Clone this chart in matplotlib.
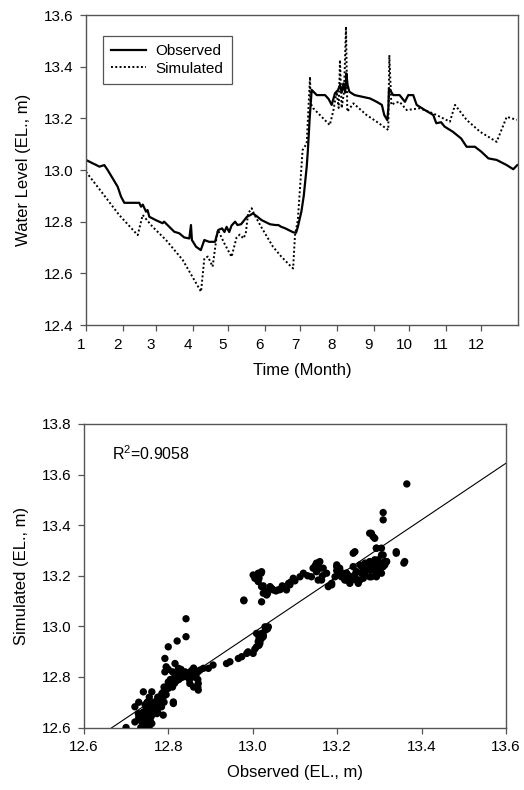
import numpy as np
import matplotlib
matplotlib.use('Agg')
import matplotlib.pyplot as plt
import matplotlib.transforms as mtransforms

plt.rcParams['font.family'] = ['Liberation Sans', 'DejaVu Sans']
plt.rcParams['mathtext.fontset'] = 'custom'
plt.rcParams['mathtext.rm'] = 'Liberation Sans'
plt.rcParams['mathtext.default'] = 'regular'

""" ************************* time series (day of year) ************************* """
obs_day = [0, 5.6, 8.4, 11.3, 15.5, 18.3, 22.5, 26.8, 29.6, 32.4, 45, 46.5, 48, 50.7, 52, 53.5,
           59, 64.7, 66, 70.4, 74.6, 78.8, 83, 87.3, 88.7, 89.5, 93, 97, 100, 104, 109,
           111.8, 115, 117, 118.8, 121, 123, 126, 128, 131, 136, 139, 141, 144, 148.4,
           155.5, 160, 162.5, 165, 168, 175, 177.5, 179, 182, 184, 186.5, 187.5, 189,
           190.7, 195, 202, 205, 207.6, 210.4, 213, 214.6, 216, 217.5, 219, 220, 221,
           222.5, 227, 233, 240, 245.6, 250, 252, 254.6, 255.5, 256, 259.6, 265, 269.5,
           272.3, 276.5, 279.4, 286.4, 293.4, 296, 300, 303, 310, 317, 321.6, 328.6,
           334, 340, 347, 355.5, 361, 364.4]
obs_val = [13.039, 13.026, 13.020, 13.013, 13.019, 13.000, 12.968, 12.935, 12.897, 12.873,
           12.873, 12.858, 12.866, 12.839, 12.845, 12.819, 12.806, 12.794, 12.800, 12.780,
           12.761, 12.755, 12.739, 12.735, 12.787, 12.729, 12.703, 12.690, 12.729, 12.722,
           12.722, 12.768, 12.774, 12.760, 12.780, 12.760, 12.785, 12.800, 12.787, 12.790,
           12.819, 12.826, 12.832, 12.822, 12.806, 12.790, 12.787, 12.787, 12.780, 12.775,
           12.759, 12.757, 12.780, 12.839, 12.900, 13.013, 13.077, 13.200,
           13.310, 13.290, 13.290, 13.275, 13.252, 13.297, 13.310, 13.329, 13.300, 13.335,
           13.300, 13.374, 13.330, 13.303, 13.290, 13.284, 13.277, 13.264, 13.252, 13.213,
           13.193, 13.240, 13.316, 13.290, 13.290, 13.264,
           13.290, 13.290, 13.252, 13.232, 13.213, 13.181, 13.185, 13.168, 13.148, 13.122,
           13.090, 13.090, 13.071, 13.045, 13.039, 13.019, 13.003, 13.019]

sim_day = [0, 14, 28, 43.7, 47.9, 56.3, 67.6, 81.7, 97.2, 100, 103, 107, 110.4, 111.5,
           117, 123, 127.3, 130, 133, 135, 137, 140, 142, 148, 158, 165, 172, 175,
           176.6, 179, 183, 186.5, 189.3, 189.8, 192, 206, 209, 211.8, 213.5, 214.6,
           216, 218, 219.7, 220.8, 226, 237, 245.6, 255.4, 256.3, 258, 261, 265, 271,
           282, 293.4, 307.5, 311.8, 321.6, 333, 347, 355.5, 364]
sim_val = [12.993, 12.910, 12.826, 12.748, 12.826, 12.780, 12.729, 12.652, 12.529, 12.658,
           12.665, 12.626, 12.742, 12.768, 12.715, 12.664, 12.740, 12.750, 12.735, 12.755,
           12.832, 12.852, 12.830, 12.780, 12.703, 12.665, 12.632, 12.619,
           12.748, 12.806, 13.077, 13.103, 13.361, 13.258, 13.239, 13.174, 13.230, 13.303,
           13.240, 13.426, 13.240, 13.300, 13.555, 13.226, 13.258, 13.213, 13.187, 13.155,
           13.445, 13.252, 13.260, 13.264, 13.232, 13.239, 13.219, 13.187, 13.252, 13.194,
           13.148, 13.109, 13.206, 13.194]

month_start = [0, 31, 59, 90, 120, 151, 181, 212, 243, 273, 304, 334]
month_label = [str(m) for m in range(1, 13)]

""" ************************* scatter: observed vs simulated ************************* """
# low group (Jan - Jun)
sc_obs = [12.700, 12.721, 12.741, 12.761, 12.729, 12.733, 12.741, 12.745, 12.753, 12.761,
          12.765, 12.773, 12.776, 12.784, 12.788, 12.792, 12.800, 12.808, 12.812, 12.816,
          12.820, 12.828, 12.835, 12.816, 12.824, 12.851, 12.847, 12.859, 12.867, 12.871,
          12.871, 12.875, 12.883, 12.895, 12.906, 12.938, 12.946, 12.966, 12.974, 12.986,
          12.792, 12.792, 12.800, 12.821, 12.842, 12.842, 12.979, 12.812, 12.788, 12.741,
          12.721, 12.735, 12.740, 12.750, 12.757, 12.760, 12.770, 12.775, 12.780, 12.785,
          12.790, 12.795, 12.800, 12.805, 12.810, 12.815, 12.820, 12.825, 12.830, 12.795,
          12.800, 12.810, 12.840, 12.845, 12.850, 12.860, 12.860, 12.855, 12.870, 12.870,
          12.860, 12.740, 12.750, 12.765, 12.755, 12.745, 12.730,
          12.745, 12.755, 12.770, 12.780, 12.790, 12.800, 12.805, 12.760, 12.775, 12.790,
          12.815, 12.830, 12.840, 12.855, 12.865, 12.870, 12.730, 12.755,
          # middle column (Jul rise, Dec)
          13.017, 13.001, 13.021, 13.037, 13.009, 12.989, 13.009, 13.029, 13.025, 13.015,
          13.005, 13.013, 13.020, 13.030, 13.035, 13.025, 13.015,
          # upper group (Jul - Nov)
          12.979, 13.001, 13.013, 13.021, 13.005, 13.013, 13.021, 13.025, 13.021, 13.033,
          13.041, 13.049, 13.060, 13.080, 13.088, 13.096, 13.112, 13.120, 13.139, 13.143,
          13.151, 13.159, 13.151, 13.155, 13.163, 13.179, 13.187, 13.199, 13.202, 13.214,
          13.222, 13.230, 13.238, 13.250, 13.242, 13.254, 13.262, 13.269, 13.273, 13.277,
          13.281, 13.285, 13.289, 13.289, 13.281, 13.293, 13.293, 13.301, 13.309, 13.309,
          13.309, 13.313, 13.340, 13.360, 13.365, 13.222, 13.246, 13.270, 13.305, 13.317,
          13.358, 13.295, 13.265, 13.245, 13.228, 13.300, 13.085, 13.070,
          13.005, 13.015, 13.020, 13.025, 13.030, 13.035, 13.045, 13.055, 13.065, 13.070,
          13.090, 13.100, 13.130, 13.148, 13.155, 13.160, 13.165,
          13.167, 13.175, 13.187, 13.199, 13.199, 13.210, 13.222, 13.234, 13.238, 13.246,
          13.254, 13.258, 13.266, 13.277, 13.277, 13.285, 13.285, 13.293, 13.297, 13.305,
          13.309, 13.317, 13.305, 13.293, 13.277, 13.262, 13.230, 13.218, 13.195, 13.340,
          13.246, 13.250, 13.301, 13.313, 13.289, 13.281, 13.269, 13.258, 13.242, 13.226,
          13.214, 13.206]
sc_sim = [12.600, 12.682, 12.741, 12.741, 12.655, 12.629, 12.642, 12.616, 12.662, 12.616,
          12.682, 12.655, 12.701, 12.682, 12.721, 12.748, 12.761, 12.774, 12.701, 12.807,
          12.787, 12.814, 12.800, 12.853, 12.834, 12.774, 12.814, 12.827, 12.814, 12.748,
          12.774, 12.827, 12.834, 12.834, 12.847, 12.853, 12.860, 12.873, 12.880, 12.893,
          12.873, 12.820, 12.919, 12.942, 12.959, 13.030, 13.101, 12.695, 12.649, 12.602,
          12.622, 12.600, 12.615, 12.640, 12.630, 12.670, 12.690, 12.720, 12.700, 12.735,
          12.760, 12.730, 12.780, 12.790, 12.760, 12.775, 12.810, 12.790, 12.800, 12.840,
          12.830, 12.820, 12.810, 12.800, 12.790, 12.760, 12.800, 12.825, 12.760, 12.790,
          12.835, 12.660, 12.700, 12.700, 12.720, 12.690, 12.700,
          12.665, 12.685, 12.670, 12.720, 12.745, 12.755, 12.770, 12.645, 12.660, 12.700,
          12.795, 12.830, 12.820, 12.815, 12.800, 12.820, 12.640, 12.605,
          12.933, 12.893, 12.972, 12.998, 12.919, 12.899, 12.972, 12.998, 12.959, 12.955,
          12.910, 12.940, 12.950, 12.985, 12.990, 12.965, 12.925,
          13.104, 13.203, 13.210, 13.216, 13.190, 13.177, 13.157, 13.131, 13.097, 13.124,
          13.157, 13.144, 13.144, 13.144, 13.164, 13.190, 13.196, 13.210, 13.196, 13.230,
          13.250, 13.256, 13.216, 13.183, 13.183, 13.157, 13.170, 13.236, 13.210, 13.196,
          13.210, 13.183, 13.236, 13.183, 13.295, 13.243, 13.210, 13.230, 13.250, 13.223,
          13.196, 13.236, 13.263, 13.348, 13.368, 13.309, 13.210, 13.250, 13.282, 13.421,
          13.450, 13.256, 13.295, 13.256, 13.563, 13.183, 13.183, 13.230, 13.309, 13.256,
          13.250, 13.240, 13.205, 13.215, 13.200, 13.230, 13.170, 13.160,
          13.200, 13.190, 13.210, 13.160, 13.140, 13.130, 13.150, 13.140, 13.145, 13.155,
          13.175, 13.180, 13.200, 13.240, 13.250, 13.230, 13.200,
          13.230, 13.210, 13.164, 13.243, 13.220, 13.196, 13.210, 13.183, 13.289, 13.216,
          13.183, 13.236, 13.250, 13.256, 13.368, 13.355, 13.223, 13.309, 13.263, 13.282,
          13.236, 13.256, 13.210, 13.196, 13.196, 13.190, 13.170, 13.183, 13.196, 13.289,
          13.183, 13.170, 13.223, 13.243, 13.243, 13.236, 13.223, 13.210, 13.203, 13.196,
          13.210, 13.230]

fit_slope = 1.12
fit_icpt = -1.587
r2_text = 'R$^2$=0.9058'

spine_col = '#555555'

fig = plt.figure(figsize=(5.24, 7.9), dpi=100)

""" ************************* top: water level vs time ************************* """
ax1 = fig.add_axes([0.1641, 0.5886, 0.8244, 0.3924])
ax1.plot(obs_day, obs_val, color='black', lw=1.6, label='Observed')
ax1.plot(sim_day, sim_val, color='black', lw=1.4, ls=(0, (1, 1.2)), label='Simulated')
ax1.set_xlim(0, 365)
ax1.set_ylim(12.4, 13.6)
ax1.set_xticks(month_start)
ax1.set_xticklabels(month_label)
ax1.set_yticks(np.arange(12.4, 13.61, 0.2))
ax1.set_yticklabels(['%.1f' % v for v in np.arange(12.4, 13.61, 0.2)])
ax1.set_xlabel('Time (Month)', fontsize=12, labelpad=8)
ax1.set_ylabel('Water Level (EL., m)', fontsize=12, labelpad=9)
leg = ax1.legend(loc='upper left', bbox_to_anchor=(0.039, 0.932), borderaxespad=0,
                 fontsize=11, fancybox=False, framealpha=1, edgecolor=spine_col,
                 handlelength=2.3, borderpad=0.55, labelspacing=0.2, handletextpad=0.6)
leg.get_frame().set_linewidth(0.9)

""" ************************* bottom: observed vs simulated ************************* """
ax2 = fig.add_axes([0.1600, 0.0791, 0.8057, 0.3842])
ax2.scatter(sc_obs, sc_sim, s=28, color='black', edgecolors='none', zorder=3)
xf = np.array([12.6, 13.6])
ax2.plot(xf, fit_slope * xf + fit_icpt, color='black', lw=0.8, zorder=2)
ax2.set_xlim(12.6, 13.6)
ax2.set_ylim(12.6, 13.8)
ax2.set_xticks(np.arange(12.6, 13.61, 0.2))
ax2.set_xticklabels(['%.1f' % v for v in np.arange(12.6, 13.61, 0.2)])
ax2.set_yticks(np.arange(12.6, 13.81, 0.2))
ax2.set_yticklabels(['%.1f' % v for v in np.arange(12.6, 13.81, 0.2)])
ax2.set_xlabel('Observed (EL., m)', fontsize=12, labelpad=8)
ax2.set_ylabel('Simulated (EL., m)', fontsize=12, labelpad=9)
ax2.text(12.666, 13.682, r2_text, fontsize=11.5, va='center', ha='left')

for ax in (ax1, ax2):
    for sp in ax.spines.values():
        sp.set_color(spine_col)
        sp.set_linewidth(1.0)
    ax.tick_params(direction='out', length=4, width=0.9, color=spine_col,
                   labelsize=11, top=False, right=False, pad=5)

# month labels sit a bit left of their ticks in the original (after tick_params, which resets transforms)
offset = mtransforms.ScaledTranslation(-5 / 100, 0, fig.dpi_scale_trans)
for t in ax1.xaxis.get_major_ticks():
    t.label1.set_transform(t.label1.get_transform() + offset)

fig.savefig('out.png', dpi=100, facecolor='white')
